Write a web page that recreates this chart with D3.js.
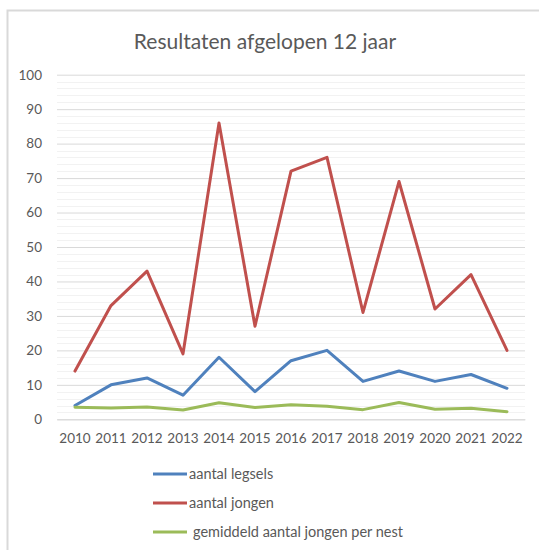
<!DOCTYPE html>
<html>
<head>
<meta charset="utf-8">
<script src="https://cdn.jsdelivr.net/npm/d3@7"></script>
<style>
  body { margin: 0; background: #fff; }
  text { font-family: Lato, "Liberation Sans", sans-serif; }
</style>
</head>
<body>
<div id="chart"></div>
<script>
var width = 539;
var height = 550;

var years = ["2010", "2011", "2012", "2013", "2014", "2015", "2016", "2017", "2018", "2019", "2020", "2021", "2022"];
var legsels = [4, 10, 12, 7, 18, 8, 17, 20, 11, 14, 11, 13, 9];
var jongen = [14, 33, 43, 19, 86, 27, 72, 76, 31, 69, 32, 42, 20];
var gemiddeld = [3.5, 3.3, 3.6, 2.7, 4.8, 3.4, 4.2, 3.8, 2.8, 4.9, 2.9, 3.2, 2.2];
var yTicks = [0, 10, 20, 30, 40, 50, 60, 70, 80, 90, 100];
var seriesNames = ["aantal legsels", "aantal jongen", "gemiddeld aantal jongen per nest"];
var colors = ["#4f81bd", "#c0504d", "#9bbb59"];

var series = [legsels, jongen, gemiddeld];

var svg = d3.select("#chart").append("svg")
  .attr("width", width)
  .attr("height", height);

// chart frame (only top and left are visible in the crop)
svg.append("rect")
  .attr("x", 7.5).attr("y", 10.5)
  .attr("width", 560).attr("height", 560)
  .attr("fill", "none")
  .attr("stroke", "#d9d9d9")
  .attr("stroke-width", 2);

svg.append("text")
  .attr("x", 265)
  .attr("y", 49)
  .attr("text-anchor", "middle")
  .style("font-size", "21px")
  .style("fill", "#595959")
  .text("Resultaten afgelopen 12 jaar");

var x = d3.scaleBand().domain(years).range([57, 525]);
var y = d3.scaleLinear().domain([0, 100]).range([419.3, 74.7]);

// minor gridlines
svg.append("g").selectAll("line")
  .data(d3.range(0, 101, 2).filter(function(d) { return d % 10 != 0; }))
  .enter().append("line")
  .attr("x1", 57).attr("x2", 525)
  .attr("y1", function(d) { return Math.round(y(d)) + 0.5; })
  .attr("y2", function(d) { return Math.round(y(d)) + 0.5; })
  .attr("stroke", "#f2f2f2");

var yAxis = d3.axisLeft(y).tickValues(yTicks).tickSize(-(525 - 57)).tickPadding(15);
var gy = svg.append("g")
  .attr("transform", "translate(57,0)")
  .call(yAxis);
gy.select(".domain").remove();
gy.selectAll("line").attr("stroke", "#d9d9d9");
gy.selectAll("text")
  .style("font-size", "13.5px")
  .style("fill", "#595959")
  .style("font-family", "Lato, sans-serif");

var xAxis = d3.axisBottom(x).tickSize(0).tickPadding(14);
var gx = svg.append("g")
  .attr("transform", "translate(0,419.3)")
  .call(xAxis);
gx.select(".domain").attr("stroke", "#d9d9d9");
gx.selectAll("text")
  .style("font-size", "13.5px")
  .style("fill", "#595959")
  .style("font-family", "Lato, sans-serif");

var line = d3.line()
  .x(function(d, i) { return x(years[i]) + x.bandwidth() / 2; })
  .y(function(d) { return y(d); });

series.forEach(function(s, k) {
  svg.append("path")
    .datum(s)
    .attr("d", line)
    .attr("fill", "none")
    .attr("stroke", colors[k])
    .attr("stroke-width", 3)
    .attr("stroke-linejoin", "round")
    .attr("stroke-linecap", "round");
});

// legend
var legendY = [474, 503, 532];
var leg = svg.append("g").selectAll("g")
  .data(seriesNames)
  .enter().append("g")
  .attr("transform", function(d, i) { return "translate(0," + legendY[i] + ")"; });
leg.append("line")
  .attr("x1", 153).attr("x2", 187)
  .attr("stroke", function(d, i) { return colors[i]; })
  .attr("stroke-width", 3);
leg.append("text")
  .attr("x", function(d, i) { return i == 2 ? 193 : 189; })
  .attr("dy", "0.35em")
  .style("font-size", "14.5px")
  .style("fill", "#595959")
  .text(function(d) { return d; });
</script>
</body>
</html>
